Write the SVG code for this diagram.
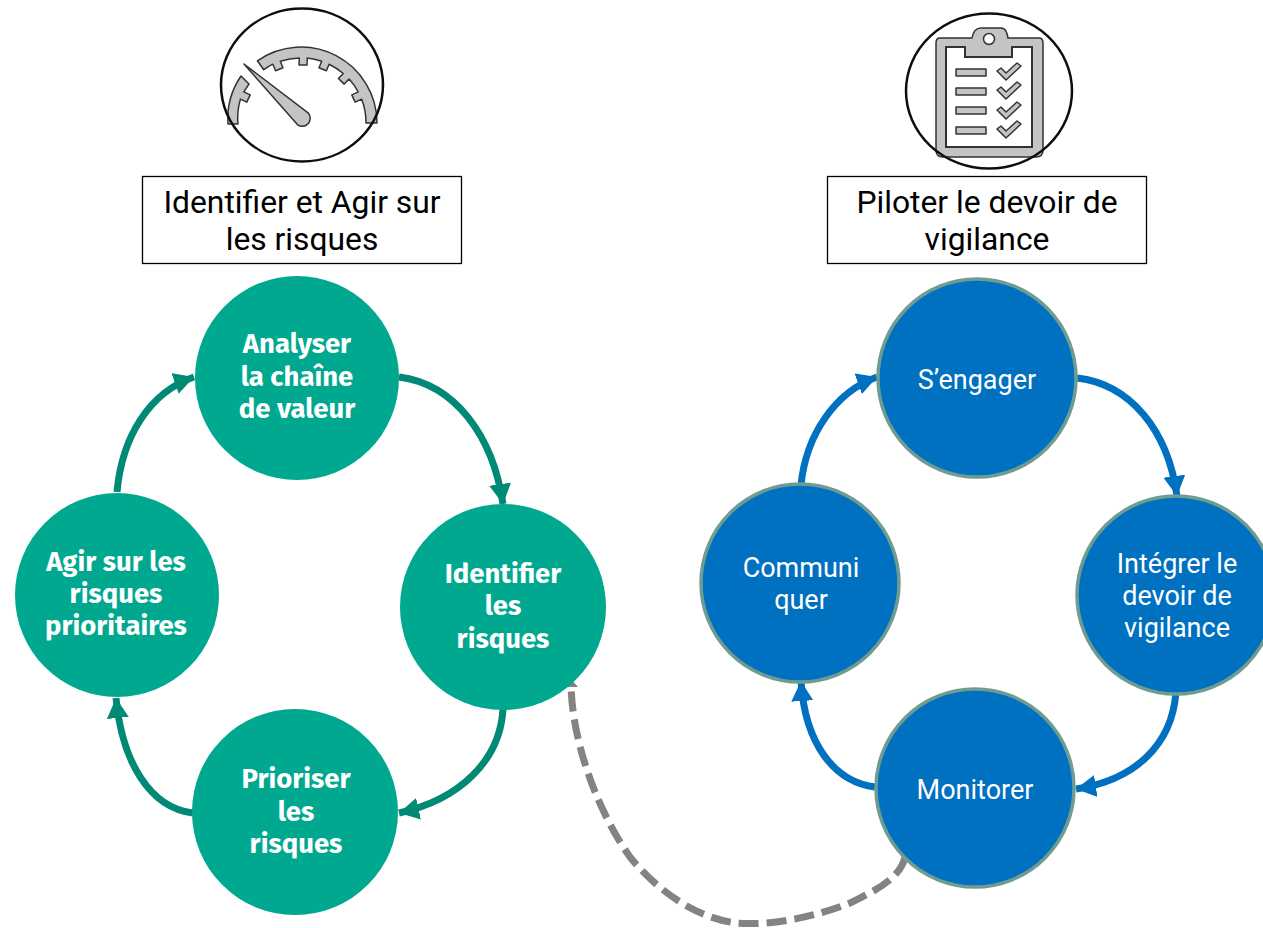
<svg xmlns="http://www.w3.org/2000/svg" width="1263" height="928" viewBox="0 0 1263 928">
<style>
.title{font:31.800px Roboto,"Liberation Sans",sans-serif;fill:#000;text-anchor:middle}
.g{fill:#00a88f}
.gt{font:bold 27.500px "Fira Sans","Noto Sans",sans-serif;fill:#fff;text-anchor:middle}
.b{fill:#0070c0;stroke:#6f9c92;stroke-width:3.500}
.bt{font:27px Roboto,"Liberation Sans",sans-serif;fill:#fff;text-anchor:middle}
.box{fill:#fff;stroke:#000;stroke-width:1.300}
.ga{fill:none;stroke:#008a76;stroke-width:7}
.ba{fill:none;stroke:#0070c0;stroke-width:7}
.ic{fill:#c4c4c4;stroke:#333;stroke-width:1.500;stroke-linejoin:round}
.ring{fill:none;stroke:#111;stroke-width:2.500}
</style>
<defs>
<marker id="ag" markerUnits="userSpaceOnUse" markerWidth="22" markerHeight="22" refX="20" refY="11" orient="auto"><path d="M0 0L20 11L0 22Z" fill="#008a76"/></marker>
<marker id="ab" markerUnits="userSpaceOnUse" markerWidth="22" markerHeight="22" refX="20" refY="11" orient="auto"><path d="M0 0L20 11L0 22Z" fill="#0070c0"/></marker>
<filter id="soft"><feGaussianBlur stdDeviation="0.4"/></filter>
</defs>
<g id="connectors">
<path class="ga" marker-end="url(#ag)" d="M399 377C455 384 493 436 503 504"/>
<path class="ga" marker-end="url(#ag)" d="M503 709C500 762 458 800 399 813"/>
<path class="ga" marker-end="url(#ag)" d="M193 813C150 808 122 762 116 698"/>
<path class="ga" marker-end="url(#ag)" d="M117 492C122 436 150 392 194 377"/>
<path class="ba" marker-end="url(#ab)" d="M1077 378C1130 384 1168 430 1177 496"/>
<path class="ba" marker-end="url(#ab)" d="M1176 692C1172 745 1135 780 1076 789"/>
<path class="ba" marker-end="url(#ab)" d="M875 787C835 782 805 745 801 681"/>
<path class="ba" marker-end="url(#ab)" d="M801 485C806 435 835 392 877 377"/>
<path fill="none" stroke="#838383" stroke-width="7" stroke-dasharray="20 8" d="M905 857C900 880 870 893 850 903C815 917 770 926 737 923C690 918 650 882 630 857C600 815 572 745 571 684"/>
<path fill="#838383" d="M567 687L578 687L571 679Z"/>
</g>
<g id="icon-gauge" filter="url(#soft)">
<path class="ic" d="M257.400 60.800A76 76 0 0 1 377 123L366 123A65 65 0 0 0 361.600 99.100L355.200 102.100L351.800 94.900L358.200 91.900A65 65 0 0 0 349.100 79.100L344.200 84.100L338.400 78.500L343.300 73.500A65 65 0 0 0 329.100 64.200L326.400 70.700L319 67.700L321.700 61.200A65 65 0 0 0 307.300 58.100L307 65.100L299 64.900L299.300 57.900A65 65 0 0 0 280.300 61.200L283 67.700L275.600 70.700L272.900 64.200A65 65 0 0 0 263.700 69.700Z"/>
<path class="ic" d="M241 76A76 76 0 0 0 228 124L238 124A65 65 0 0 1 240.400 99.100L246.800 102.100L250.200 94.900L243.800 91.900L249 84Z"/>
<path class="ic" d="M244 64L308.400 113.200A8 8 0 0 1 297.600 124.800Z"/>
<ellipse class="ring" cx="302" cy="85" rx="81" ry="76.500"/>
</g>
<g id="icon-clipboard" filter="url(#soft)">
<path class="ic" d="M940 38L972 38C973 32 975 28 981 28L1001 28C1006 28 1007 33 1008 38L1039 38C1042 38 1043 40 1043 43L1043 150C1043 155 1040 157 1036 157L943 157C938 157 936 155 936 150L936 43C936 40 937 38 940 38Z"/>
<path d="M946 47L965 47L965 57L1012 57L1012 47L1032 47L1032 147L946 147Z" fill="#fff" stroke="#333" stroke-width="2"/>
<circle cx="989" cy="39" r="5.500" fill="#fff" stroke="#333" stroke-width="1.500"/>
<rect class="ic" x="956" y="69" width="30" height="7"/>
<rect class="ic" x="956" y="88" width="30" height="7"/>
<rect class="ic" x="956" y="107" width="30" height="7"/>
<rect class="ic" x="956" y="127" width="30" height="7"/>
<path class="ic" d="M997 71L1001 68L1006 73L1017 63L1021 66L1006 80Z"/>
<path class="ic" d="M997 90L1001 87L1006 92L1017 82L1021 85L1006 99Z"/>
<path class="ic" d="M997 110L1001 107L1006 112L1017 102L1021 105L1006 119Z"/>
<path class="ic" d="M997 129L1001 126L1006 131L1017 121L1021 124L1006 138Z"/>
<ellipse class="ring" cx="989" cy="91" rx="83" ry="77.500"/>
</g>
<g id="title-left"><rect class="box" x="142.500" y="176.500" width="319" height="87"/><text class="title" x="302" y="213">Identifier et Agir sur</text><text class="title" x="302" y="250">les risques</text></g>
<g id="title-right"><rect class="box" x="827.500" y="176.500" width="319" height="87"/><text class="title" x="987" y="213">Piloter le devoir de</text><text class="title" x="987" y="250">vigilance</text></g>
<g id="n-analyser"><circle class="g" cx="297" cy="378" r="102"/><text class="gt" x="297" y="353">Analyser</text><text class="gt" x="297" y="386">la chaîne</text><text class="gt" x="297" y="418">de valeur</text></g>
<g id="n-identifier"><circle class="g" cx="503" cy="607" r="103"/><text class="gt" x="503" y="583">Identifier</text><text class="gt" x="503" y="615">les</text><text class="gt" x="503" y="648">risques</text></g>
<g id="n-prioriser"><circle class="g" cx="295" cy="812" r="103"/><text class="gt" x="296" y="788">Prioriser</text><text class="gt" x="296" y="821">les</text><text class="gt" x="296" y="853">risques</text></g>
<g id="n-agir"><circle class="g" cx="117" cy="595" r="102"/><text class="gt" x="116" y="571">Agir sur les</text><text class="gt" x="116" y="603">risques</text><text class="gt" x="116" y="635">prioritaires</text></g>
<g id="n-engager"><circle class="b" cx="977" cy="378" r="99"/><text class="bt" x="977" y="389">S’engager</text></g>
<g id="n-integrer"><circle class="b" cx="1176" cy="595" r="99"/><text class="bt" x="1177" y="573">Intégrer le</text><text class="bt" x="1177" y="605">devoir de</text><text class="bt" x="1177" y="637">vigilance</text></g>
<g id="n-monitorer"><circle class="b" cx="975" cy="788" r="99"/><text class="bt" x="975" y="799">Monitorer</text></g>
<g id="n-communiquer"><circle class="b" cx="800" cy="583" r="99"/><text class="bt" x="801" y="577">Communi</text><text class="bt" x="801" y="609">quer</text></g>
</svg>
